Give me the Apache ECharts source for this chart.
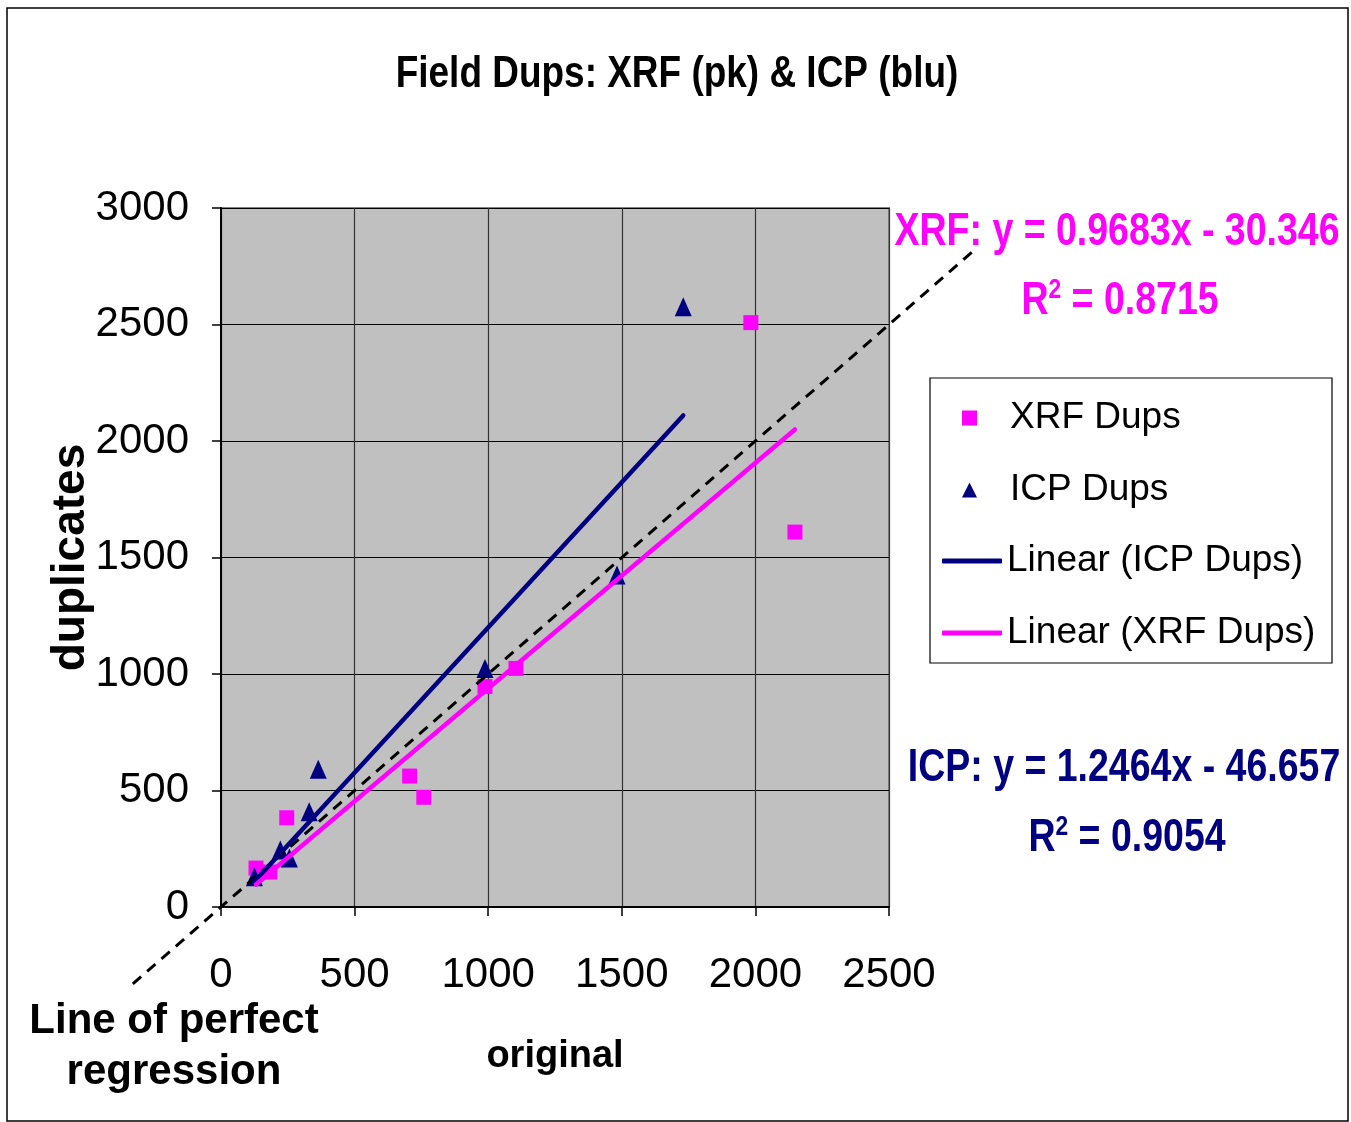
<!DOCTYPE html>
<html>
<head>
<meta charset="utf-8">
<script src="https://cdn.jsdelivr.net/npm/echarts@6/dist/echarts.min.js"></script>
<style>
html,body{margin:0;padding:0;background:#fff;}
#chart{width:1351px;height:1122px;}
</style>
</head>
<body>
<div id="chart"></div>
<script>
// ---- data ----
const xrfX = [131, 183, 246, 706, 759, 988, 1104, 1983, 2148];
const xrfY = [167, 150, 383, 562, 471, 946, 1024, 2508, 1609];
const icpX = [125, 222, 256, 330, 364, 988, 1482, 1730];
const icpY = [130, 245, 210, 409, 591, 1024, 1425, 2576];
// trendline coefficients as printed on the chart
const xrfFit = [0.9683, -30.346];   // slope, intercept
const icpFit = [1.2464, -46.657];
const xrfR2 = '0.8715';
const icpR2 = '0.9054';
// line of perfect regression (y = x), extent in data units
const perfectX = [-330, 2810];
const xTicks = [0, 500, 1000, 1500, 2000, 2500];
const yTicks = [0, 500, 1000, 1500, 2000, 2500, 3000];

const FONT = '"Liberation Sans", Arial, sans-serif';
const PINK = '#FF00FF';
const NAVY = '#000080';

// main plot box (pixels)
const G = { left: 221, top: 208, width: 668, height: 699 };
const xMin = xTicks[0], xMax = xTicks[xTicks.length - 1];
const yMin = yTicks[0], yMax = yTicks[yTicks.length - 1];
const pxPerX = G.width / (xMax - xMin), pxPerY = G.height / (yMax - yMin);
// second (hidden) grid sharing the same scale, wide enough for the y = x line
const G2 = {
  left: G.left + (perfectX[0] - xMin) * pxPerX,
  width: (perfectX[1] - perfectX[0]) * pxPerX,
  top: G.top + G.height - (perfectX[1] - yMin) * pxPerY,
  height: (perfectX[1] - perfectX[0]) * pxPerY
};

function pairs(xs, ys) { return xs.map((x, i) => [x, ys[i]]); }
function fitLine(xs, fit) {
  const lo = Math.min(...xs), hi = Math.max(...xs);
  return [[lo, fit[0] * lo + fit[1]], [hi, fit[0] * hi + fit[1]]];
}
function fmtEq(name, fit) {
  const b = fit[1];
  return name + ': y = ' + fit[0].toFixed(4) + 'x ' + (b < 0 ? '- ' : '+ ') + Math.abs(b).toFixed(3);
}
function narrowText(x, y, sx, style) {
  return { type: 'text', z: 10, x: x, y: y, scaleX: sx, style: style };
}

const axisLabelStyle = { fontFamily: FONT, fontSize: 42, color: '#000' };

const chart = echarts.init(document.getElementById('chart'));
const option = {
  backgroundColor: '#fff',
  animation: false,
  grid: [
    Object.assign({ show: true, backgroundColor: '#C0C0C0', borderColor: '#808080', borderWidth: 2 }, G),
    Object.assign({ show: false }, G2)
  ],
  xAxis: [
    {
      gridIndex: 0, type: 'value', min: xMin, max: xMax, interval: xTicks[1] - xTicks[0],
      name: 'original', nameLocation: 'middle', nameGap: 150, nameMoveOverlap: false,
      nameTextStyle: { fontFamily: FONT, fontWeight: 'bold', fontSize: 38, color: '#000', verticalAlign: 'middle' },
      axisLine: { show: true, onZero: false, lineStyle: { color: '#000', width: 2 } },
      axisTick: { show: true, length: 9, lineStyle: { color: '#000', width: 1.5 } },
      axisLabel: Object.assign({ margin: 68, verticalAlign: 'middle', formatter: v => String(v) }, axisLabelStyle),
      splitLine: { show: true, lineStyle: { color: '#333', width: 1.2 } }
    },
    { gridIndex: 1, type: 'value', min: perfectX[0], max: perfectX[1], show: false }
  ],
  yAxis: [
    {
      gridIndex: 0, type: 'value', min: yMin, max: yMax, interval: yTicks[1] - yTicks[0],
      name: 'duplicates', nameLocation: 'middle', nameGap: 150, nameRotate: 90, nameMoveOverlap: false,
      nameTextStyle: { fontFamily: FONT, fontWeight: 'bold', fontSize: 46, color: '#000', verticalAlign: 'middle' },
      axisLine: { show: true, onZero: false, lineStyle: { color: '#000', width: 2 } },
      axisTick: { show: true, length: 9, lineStyle: { color: '#000', width: 1.5 } },
      axisLabel: Object.assign({ margin: 32, formatter: v => String(v) }, axisLabelStyle),
      splitLine: { show: true, lineStyle: { color: '#000', width: 1.2 } }
    },
    { gridIndex: 1, type: 'value', min: perfectX[0], max: perfectX[1], show: false }
  ],
  legend: [
    {
      z: 20,
      data: ['XRF Dups', 'ICP Dups'],
      orient: 'vertical', left: 962, top: 396, padding: 0,
      itemWidth: 15, itemHeight: 15, itemGap: 28,
      textStyle: { fontFamily: FONT, fontSize: 37, color: '#000', lineHeight: 44, padding: [0, 0, 0, 28] }
    },
    {
      z: 20,
      data: [
        { name: 'Linear (ICP Dups)', icon: 'roundRect' },
        { name: 'Linear (XRF Dups)', icon: 'roundRect' }
      ],
      orient: 'vertical', left: 942, top: 539, padding: 0,
      itemWidth: 60, itemHeight: 5, itemGap: 28,
      textStyle: { fontFamily: FONT, fontSize: 37, color: '#000', lineHeight: 44 }
    }
  ],
  graphic: [
    { type: 'rect', z: -10, shape: { x: 7, y: 8, width: 1341, height: 1113 },
      style: { fill: '#fff', stroke: '#000', lineWidth: 1.5 } },
    { type: 'rect', z: 1, shape: { x: 930, y: 378, width: 402, height: 285 },
      style: { fill: '#fff', stroke: '#000', lineWidth: 1.2 } },
    narrowText(677, 75, 0.84, { text: 'Field Dups: XRF (pk) & ICP (blu)', fill: '#000',
      font: 'bold 44px ' + FONT, align: 'center', verticalAlign: 'middle' }),
    narrowText(1117, 232, 0.815, { text: fmtEq('XRF', xrfFit), fill: PINK, font: 'bold 46px ' + FONT,
      align: 'center', verticalAlign: 'middle' }),
    narrowText(1120, 301, 0.815, { text: '{a|R}{s|2}{a| = ' + xrfR2 + '}', align: 'center', verticalAlign: 'middle',
      rich: { a: { fill: PINK, font: 'bold 46px ' + FONT, lineHeight: 50 },
              s: { fill: PINK, font: 'bold 28px ' + FONT, lineHeight: 18, verticalAlign: 'top' } } }),
    narrowText(1124, 768, 0.815, { text: fmtEq('ICP', icpFit), fill: NAVY, font: 'bold 46px ' + FONT,
      align: 'center', verticalAlign: 'middle' }),
    narrowText(1127, 838, 0.815, { text: '{a|R}{s|2}{a| = ' + icpR2 + '}', align: 'center', verticalAlign: 'middle',
      rich: { a: { fill: NAVY, font: 'bold 46px ' + FONT, lineHeight: 50 },
              s: { fill: NAVY, font: 'bold 28px ' + FONT, lineHeight: 18, verticalAlign: 'top' } } }),
    { type: 'text', z: 10, x: 174, y: 1047,
      style: { text: 'Line of perfect\nregression', fill: '#000', font: 'bold 42px ' + FONT,
        align: 'center', verticalAlign: 'middle', lineHeight: 51 } }
  ],
  series: [
    {
      name: 'Line of perfect regression', type: 'line', xAxisIndex: 1, yAxisIndex: 1, silent: true,
      symbol: 'none', data: perfectX.map(v => [v, v]),
      lineStyle: { color: '#000', width: 3, type: [11, 8] }, z: 3
    },
    {
      name: 'XRF Dups', type: 'scatter', data: pairs(xrfX, xrfY),
      symbol: 'rect', symbolSize: 15, itemStyle: { color: PINK, opacity: 1 }, z: 2
    },
    {
      name: 'ICP Dups', type: 'scatter', data: pairs(icpX, icpY),
      symbol: 'triangle', symbolSize: [17, 19], itemStyle: { color: NAVY, opacity: 1 }, z: 2
    },
    {
      name: 'Linear (ICP Dups)', type: 'line', symbol: 'none', showSymbol: false,
      data: fitLine(icpX, icpFit), lineStyle: { color: NAVY, width: 4.5, cap: 'round' },
      itemStyle: { color: NAVY }, z: 4
    },
    {
      name: 'Linear (XRF Dups)', type: 'line', symbol: 'none', showSymbol: false,
      data: fitLine(xrfX, xrfFit), lineStyle: { color: PINK, width: 4.5, cap: 'round' },
      itemStyle: { color: PINK }, z: 4
    }
  ]
};
chart.setOption(option);
</script>
</body>
</html>
